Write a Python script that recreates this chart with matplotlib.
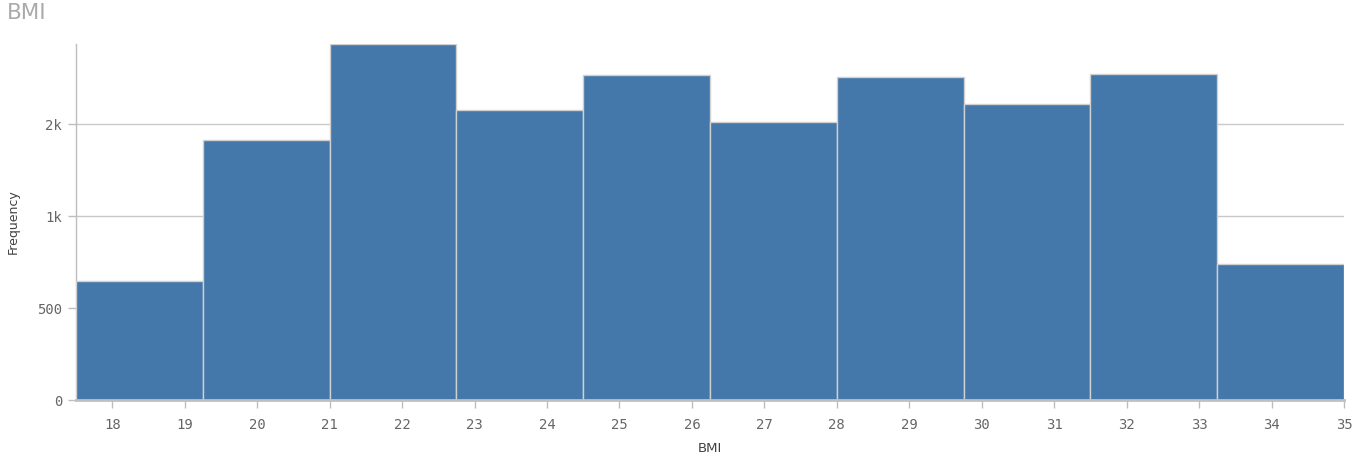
import matplotlib
matplotlib.use("Agg")
import matplotlib.pyplot as plt
import numpy as np

# Data
bin_edges = [17.5, 19.25, 21.0, 22.75, 24.5, 26.25, 28.0, 29.75, 31.5, 33.25, 35.0]
frequencies = [649, 1413, 1937, 1576, 1770, 1511, 1756, 1609, 1775, 740]
x_ticks = list(range(18, 36))
y_ticks = [0, 500, 1000, 1500]
y_tick_labels = ["0", "500", "1k", "2k"]

W, H = 1358, 463
fig = plt.figure(figsize=(W / 100, H / 100), dpi=100)
left, right, top, bottom = 76, 1344, 44, 400
ax = fig.add_axes([left / W, 1 - bottom / H, (right - left) / W, (bottom - top) / H])

edges = np.array(bin_edges)
widths = np.diff(edges)
ax.bar(edges[:-1], frequencies, width=widths, align="edge",
       color="#4477aa", edgecolor="#d0d0d0", linewidth=1.0, zorder=3)

ax.set_xlim(bin_edges[0], bin_edges[-1])
ax.set_ylim(0, max(frequencies))

ax.set_xticks(x_ticks)
ax.set_xticklabels([str(t) for t in x_ticks])
ax.set_yticks(y_ticks)
ax.set_yticklabels(y_tick_labels)

for lab in ax.get_xticklabels() + ax.get_yticklabels():
    lab.set_fontfamily("DejaVu Sans Mono")
    lab.set_fontsize(10)
    lab.set_color("#666666")

ax.tick_params(axis="x", length=6, width=1, color="#bdbdbd", pad=7)
ax.tick_params(axis="y", length=6, width=1, color="#bdbdbd", pad=4)

ax.grid(axis="y", color="#c8c8c8", linewidth=1, zorder=0)
ax.set_axisbelow(True)

for s in ["top", "right"]:
    ax.spines[s].set_visible(False)
ax.spines["left"].set_color("#bdbdbd")
ax.spines["left"].set_linewidth(1)
ax.spines["bottom"].set_color("#c0c0c0")
ax.spines["bottom"].set_linewidth(2)
ax.spines["bottom"].set_zorder(4)

fig.text(13 / W, 1 - 222 / H, "Frequency", rotation=90, ha="center", va="center",
         fontsize=9, color="#404040", family="DejaVu Sans")
fig.text(710 / W, 1 - 449 / H, "BMI", ha="center", va="center",
         fontsize=9.5, color="#404040", family="DejaVu Sans")
fig.text(7 / W, 1 - 13 / H, "BMI", ha="left", va="center",
         fontsize=15.5, color="#aaaaaa", family="DejaVu Sans")

fig.savefig("out.png", dpi=100)
